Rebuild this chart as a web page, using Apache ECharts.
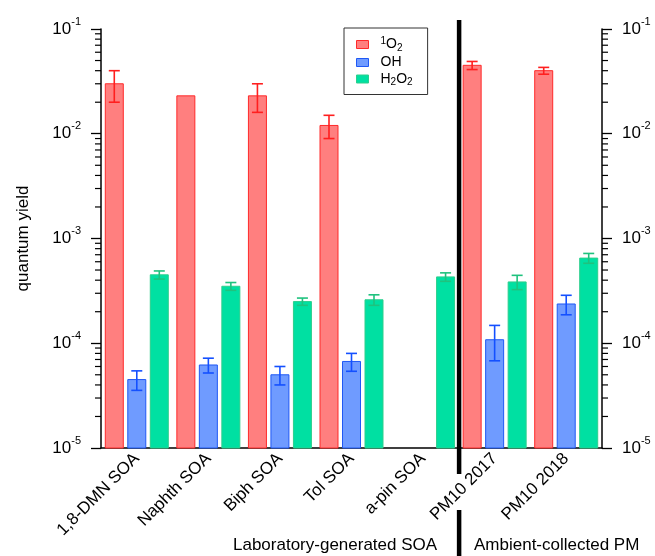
<!DOCTYPE html>
<html>
<head>
<meta charset="utf-8">
<script src="https://cdn.jsdelivr.net/npm/echarts@6/dist/echarts.min.js"></script>
<style>
html,body{margin:0;padding:0;background:#fff;}
#chart{width:655px;height:556px;}
</style>
</head>
<body>
<div id="chart"></div>
<script>
// ---------- data ----------
const categories = ['1,8-DMN SOA', 'Naphth SOA', 'Biph SOA', 'Tol SOA', 'a-pin SOA', 'PM10 2017', 'PM10 2018'];
const seriesNames = ['1O2', 'OH', 'H2O2'];
const singletO2 = [0.030, 0.023, 0.023, 0.012, null, 0.045, 0.040];
const singletO2Err = [0.010, 0, 0.007, 0.003, null, 0.004, 0.003];
const hydroxyl = [4.5e-5, 6.2e-5, 5.0e-5, 6.7e-5, null, 1.08e-4, 2.37e-4];
const hydroxylErr = [0.95e-5, 1.0e-5, 1.0e-5, 1.3e-5, null, 0.4e-4, 0.5e-4];
const h2o2 = [4.5e-4, 3.5e-4, 2.5e-4, 2.6e-4, 4.3e-4, 3.85e-4, 6.5e-4];
const h2o2Err = [0.4e-4, 0.3e-4, 0.2e-4, 0.3e-4, 0.4e-4, 0.6e-4, 0.7e-4];
const yMin = 1e-5, yMax = 1e-1;
const minorTickValues = [];
[1e-5, 1e-4, 1e-3, 1e-2].forEach(function (d) {
  [2, 3, 4, 5, 6, 7, 8, 9].forEach(function (k) { minorTickValues.push(k * d); });
});
const groupBoundary = 5; // between 'a-pin SOA' and 'PM10 2017'
const groupLabels = ['Laboratory-generated SOA', 'Ambient-collected PM'];

// ---------- styles ----------
const FONT = 'Liberation Sans, Arial, Helvetica, sans-serif';
const fills = ['#ff7f7f', '#6f9bff', '#00e0a2'];
const strokes = ['#ff2a2a', '#1f58f5', '#2ccf8c'];
const errColors = ['#ff1f1f', '#1450ff', '#1fc27e'];
const BAR_W = 18;
const BAR_STEP = 22.5;

const values = [singletO2, hydroxyl, h2o2];
const errors = [singletO2Err, hydroxylErr, h2o2Err];

const chart = echarts.init(document.getElementById('chart'), null, {renderer: 'canvas'});

function axisLabelFmt(v) {
  const e = Math.round(Math.log10(v));
  return '{b|10}{s|' + e + '}';
}
const axisRich = {
  b: {fontSize: 17, fontFamily: FONT, color: '#000', lineHeight: 26},
  s: {fontSize: 11, fontFamily: FONT, color: '#000', lineHeight: 11, verticalAlign: 'top'}
};

const series = [];
// bars (drawn from the bottom of the log axis up to the value)
seriesNames.forEach(function (name, i) {
  const data = [];
  values[i].forEach(function (v, k) { if (v != null) data.push([k, v]); });
  series.push({
    name: name,
    type: 'custom',
    xAxisIndex: 0,
    yAxisIndex: 0,
    itemStyle: {color: fills[i], borderColor: strokes[i], borderWidth: 1},
    silent: true,
    z: 2,
    data: data,
    renderItem: function (params, api) {
      const cat = api.value(0), v = api.value(1);
      const top = api.coord([cat, v]);
      const base = api.coord([cat, yMin]);
      const cx = top[0] + (i - 1) * BAR_STEP;
      return {
        type: 'rect',
        shape: {x: cx - BAR_W / 2, y: top[1], width: BAR_W, height: base[1] - top[1]},
        style: {fill: fills[i], stroke: strokes[i], lineWidth: 1}
      };
    }
  });
});
// error bars
seriesNames.forEach(function (name, i) {
  const data = [];
  values[i].forEach(function (v, k) {
    if (v != null && errors[i][k]) data.push([k, v, errors[i][k]]);
  });
  series.push({
    type: 'custom',
    xAxisIndex: 0,
    yAxisIndex: 0,
    silent: true,
    z: 5,
    data: data,
    renderItem: function (params, api) {
      const cat = api.value(0), v = api.value(1), e = api.value(2);
      const hi = api.coord([cat, v + e]);
      const lo = api.coord([cat, v - e]);
      const x = hi[0] + (i - 1) * BAR_STEP;
      const cap = 5.5;
      const st = {stroke: errColors[i], lineWidth: 1.6};
      return {
        type: 'group',
        children: [
          {type: 'line', shape: {x1: x, y1: hi[1], x2: x, y2: lo[1]}, style: st},
          {type: 'line', shape: {x1: x - cap, y1: hi[1], x2: x + cap, y2: hi[1]}, style: st},
          {type: 'line', shape: {x1: x - cap, y1: lo[1], x2: x + cap, y2: lo[1]}, style: st}
        ]
      };
    }
  });
});
// minor ticks on both y axes
series.push({
  type: 'custom',
  xAxisIndex: 1,
  yAxisIndex: 0,
  silent: true,
  clip: false,
  z: 6,
  data: minorTickValues.map(function (v) { return [1, v]; }),
  renderItem: function (params, api) {
    const v = minorTickValues[params.dataIndex];
    const l = api.coord([0, v]);
    const r = api.coord([categories.length, v]);
    const st = {stroke: '#000', lineWidth: 1.2};
    return {
      type: 'group',
      children: [
        {type: 'line', shape: {x1: l[0] - 6, y1: l[1], x2: l[0], y2: l[1]}, style: st},
        {type: 'line', shape: {x1: r[0], y1: r[1], x2: r[0] + 6, y2: r[1]}, style: st}
      ]
    };
  }
});
// group separator
series.push({
  type: 'custom',
  xAxisIndex: 1,
  yAxisIndex: 0,
  silent: true,
  clip: false,
  z: 7,
  data: [[groupBoundary, yMax]],
  renderItem: function (params, api) {
    const t = api.coord([groupBoundary, yMax]);
    const b = api.coord([groupBoundary, yMin]);
    const st = {fill: '#000'};
    return {
      type: 'group',
      children: [
        {type: 'rect', shape: {x: t[0] - 2, y: t[1] - 9, width: 4.5, height: (b[1] - t[1]) + 35}, style: st},
        {type: 'rect', shape: {x: t[0] - 2, y: b[1] + 62, width: 4.5, height: 80}, style: st}
      ]
    };
  }
});

const option = {
  animation: false,
  backgroundColor: '#fff',
  grid: {left: 101, right: 53, top: 29, bottom: 108},
  legend: {
    orient: 'vertical',
    left: 344,
    top: 28,
    padding: [8, 15, 7, 12],
    borderColor: '#333',
    borderWidth: 1,
    itemWidth: 12,
    itemHeight: 8,
    itemGap: 2.5,
    selectedMode: false,
    data: seriesNames.map(function (n, i) {
      return {name: n, icon: 'rect', itemStyle: {color: fills[i], borderColor: strokes[i], borderWidth: 1}};
    }),
    formatter: function (n) {
      if (n === '1O2') return '{s|1}{b|O}{u|2}';
      if (n === 'OH') return '{b|OH}';
      return '{b|H}{u|2}{b|O}{u|2}';
    },
    textStyle: {
      fontFamily: FONT, fontSize: 14, color: '#000', padding: [0, 0, 0, 7],
      rich: {
        b: {fontSize: 14, fontFamily: FONT, color: '#000', lineHeight: 17},
        s: {fontSize: 10, fontFamily: FONT, color: '#000', lineHeight: 10, verticalAlign: 'top'},
        u: {fontSize: 10, fontFamily: FONT, color: '#000', lineHeight: 10, verticalAlign: 'bottom'}
      }
    }
  },
  xAxis: [{
    type: 'category',
    data: categories,
    boundaryGap: true,
    axisLine: {lineStyle: {color: '#000', width: 1.5}},
    axisTick: {length: 10, lineStyle: {color: '#000', width: 1.3}},
    axisLabel: {rotate: 45, fontSize: 17, fontFamily: FONT, color: '#000', margin: 8, interval: 0},
    splitLine: {show: false}
  }, {
    type: 'value',
    min: 0,
    max: categories.length,
    show: false
  }],
  yAxis: [{
    type: 'log',
    min: yMin,
    max: yMax,
    logBase: 10,
    position: 'left',
    name: 'quantum yield',
    nameLocation: 'middle',
    nameGap: 69,
    nameTextStyle: {fontSize: 17, fontFamily: FONT, color: '#000'},
    axisLine: {show: true, lineStyle: {color: '#000', width: 1.5}},
    axisTick: {show: true, length: 10, lineStyle: {color: '#000', width: 1.3}},
    axisLabel: {formatter: axisLabelFmt, rich: axisRich, margin: 20},
    splitLine: {show: false}
  }, {
    type: 'log',
    min: yMin,
    max: yMax,
    logBase: 10,
    position: 'right',
    axisLine: {show: true, lineStyle: {color: '#000', width: 1.5}},
    axisTick: {show: true, length: 10, lineStyle: {color: '#000', width: 1.3}},
    axisLabel: {formatter: axisLabelFmt, rich: axisRich, margin: 20},
    splitLine: {show: false}
  }],
  graphic: [
    {type: 'text', left: 233, top: 537, style: {text: groupLabels[0], font: '17px ' + FONT, fill: '#000'}},
    {type: 'text', left: 474, top: 537, style: {text: groupLabels[1], font: '17px ' + FONT, fill: '#000'}}
  ],
  series: series
};
chart.setOption(option);
</script>
</body>
</html>
